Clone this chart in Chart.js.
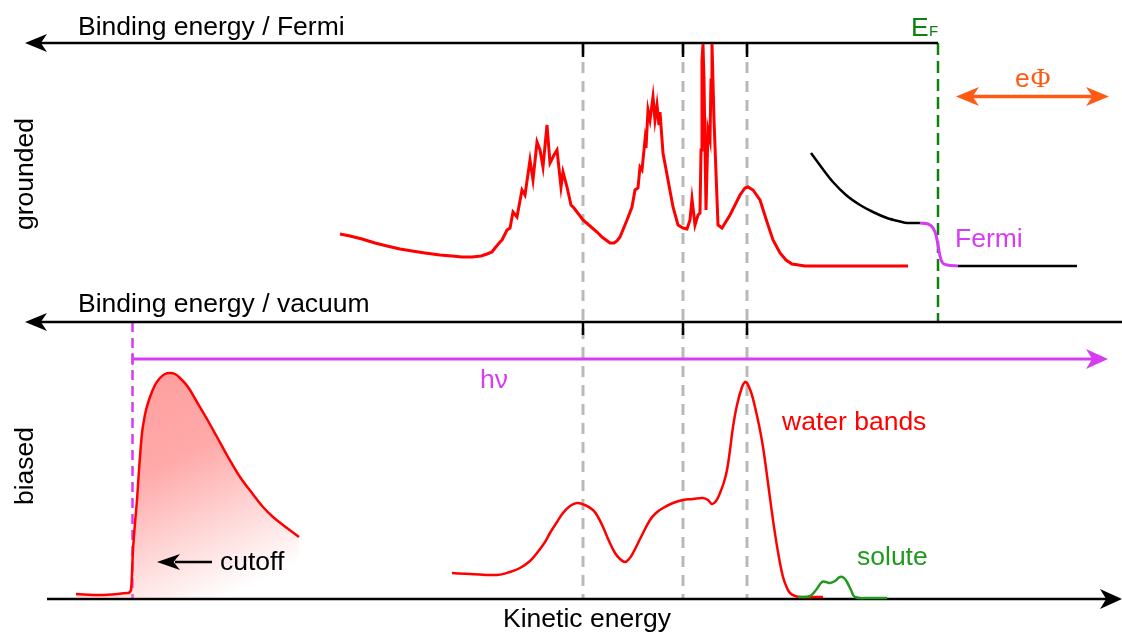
<!DOCTYPE html>
<html><head><meta charset="utf-8">
<script src="https://cdn.jsdelivr.net/npm/chart.js@4.4.1/dist/chart.umd.min.js"></script>
<style>html,body{margin:0;padding:0;background:#fff;overflow:hidden}canvas{display:block}</style>
</head><body>
<canvas id="c" width="1122" height="633"></canvas>
<script>
// ---- DATA (kinetic energy axis in arbitrary units, intensities in arbitrary units) ----
// grounded panel: liquid-water spectrum
const groundedWaterKE = [340,350,362,375,387,400,412,425,440,452,462,472,481,487,492,495,500,502,507,510,513,517,522,525,530,533,537,540,543,547,550,554,557,561,563,567,571,574,577,583,590,597,602,606,610,614,617,620,627,632,635,638,640,642,645,646,648,650,653,655,657,659,660,663,668,673,678,683,687,690,692,695,698,700,701,702,703,704,706,707,708,710,711,712,714,718,722,730,740,745,748,753,760,767,773,780,786,792,805,908];
const groundedWaterI  = [32,30,27,23,20,17,15,13,11,10,9,9,10,12,14,18,24,26,36,38,54,49,76,71,106,86,124,116,99,141,103,111,116,79,94,79,61,58,54,46,40,34,29,26,23,23,25,29,46,59,76,78,99,96,126,118,156,146,169,146,161,141,154,113,86,59,41,38,37,46,67,41,51,53,116,206,222,186,56,96,136,126,186,222,146,41,38,51,71,78,79,76,66,44,26,13,6,2,0,0];
// grounded panel: metal reference spectrum (valence, Fermi edge, tail)
const metalKE   = [811,822,833,846,860,873,887,900,907,920];
const metalI    = [113,98,84,71,61,54,48,44.5,43,43];
const fermiKE   = [920,928,933,936,938,940,942,947,958];
const fermiI    = [43,42,38,31,21,10,4,1,0];
const metalTailKE = [958,1077];
const metalTailI  = [0,0];
// biased panel: secondary-electron cutoff
const cutoffKE = [76,100,128,131,133,135,137,139,142,144,146,150,155,160,165,170,175,180,188,197,207,217,228,240,252,263,273,283,291,299];
const cutoffI  = [4,3,5,8,48,75,98,128,165,178,188,201,213,220,224,225,224,220,211,196,179,161,141,121,105,91,81,73,67,61];
// biased panel: water bands
const waterBandsKE = [452,470,497,510,520,530,537,545,550,557,563,570,577,585,593,598,603,609,615,620,625,629,633,641,650,656,663,673,683,693,703,708,712,716,720,724,727,730,733,737,742,745,747,751,755,759,763,768,773,778,783,787,790,795,800,823];
const waterBandsI  = [25,24,23,26,30,37,45,56,65,76,85,92,95,93,88,81,71,57,45,39,36,39,45,61,78,85,90,95,98,99,100,98,94,97,105,116,128,148,171,193,211,216,215,206,191,173,151,115,78,46,21,10,5,2,1,1];
// biased panel: solute
const soluteKE = [798,810,816,822,826,830,835,840,844,847,851,855,870,887];
const soluteI  = [1,2,8,16,16,15,17,21,20,16,8,1,0,0];
// feature positions
const bandKE  = [583,683,747];
const fermiLevelKE = 938;
const cutoffEdgeKE = 132.5;
const labels = {
  topAxis: 'Binding energy / Fermi', vacAxis: 'Binding energy / vacuum', keAxis: 'Kinetic energy',
  grounded: 'grounded', biased: 'biased', hv: 'h\u03bd', water: 'water bands', solute: 'solute',
  cutoff: 'cutoff', fermi: 'Fermi', work: 'e', phi: '\u03a6', ef: 'E', efSub: 'F'
};

const zip = (xs, ys) => xs.map((x, i) => ({x, y: ys[i]}));
const RED = '#ff0000', MAG = '#d63cf2', GREEN_EF = '#0c820c', GREEN = '#1f9a1f', ORANGE = '#ff5a14';
const FONT = '"Liberation Sans", Arial, sans-serif';
const FS = '26.5px ';

function cutoffGradient(context) {
  const chart = context.chart;
  const s = chart.scales;
  const fallback = 'rgba(255,170,170,0.7)';
  if (!s || !s.x || !s.yBot || !chart.chartArea) return fallback;
  const x0 = s.x.getPixelForValue(160), y0 = s.yBot.getPixelForValue(215);
  const x1 = s.x.getPixelForValue(255), y1 = s.yBot.getPixelForValue(15);
  if (![x0, y0, x1, y1].every(Number.isFinite)) return fallback;
  const g = chart.ctx.createLinearGradient(x0, y0, x1, y1);
  g.addColorStop(0, 'rgba(255,160,160,1)');
  g.addColorStop(0.35, 'rgba(255,170,170,1)');
  g.addColorStop(1, 'rgba(255,170,170,0)');
  return g;
}

const overlay = {
  id: 'overlay',
  beforeDatasetsDraw(chart) {
    const c = chart.ctx, s = chart.scales;
    const X = v => s.x.getPixelForValue(v), YT = v => s.yTop.getPixelForValue(v), YB = v => s.yBot.getPixelForValue(v);
    c.save();
    c.strokeStyle = '#b9b9b9'; c.lineWidth = 3; c.setLineDash([11, 8]);
    bandKE.forEach(k => { c.beginPath(); c.moveTo(X(k), YT(223)); c.lineTo(X(k), YB(0)); c.stroke(); });
    c.strokeStyle = GREEN_EF; c.lineWidth = 2.5; c.setLineDash([12, 6]);
    c.beginPath(); c.moveTo(X(fermiLevelKE), YT(223)); c.lineTo(X(fermiLevelKE), YT(-56)); c.stroke();
    c.strokeStyle = MAG; c.lineWidth = 2.5; c.setLineDash([10, 6]);
    c.beginPath(); c.moveTo(X(cutoffEdgeKE), YT(-56)); c.lineTo(X(cutoffEdgeKE), YB(0)); c.stroke();
    c.setLineDash([]);
    c.strokeStyle = '#000'; c.lineWidth = 2.5;
    c.beginPath(); c.moveTo(X(40), YT(223)); c.lineTo(X(fermiLevelKE), YT(223)); c.stroke();
    c.beginPath(); c.moveTo(X(40), YT(-56)); c.lineTo(X(1122), YT(-56)); c.stroke();
    c.beginPath(); c.moveTo(X(47), YB(-1)); c.lineTo(X(1108), YB(-1)); c.stroke();
    bandKE.forEach(k => {
      c.beginPath(); c.moveTo(X(k), YT(223)); c.lineTo(X(k), YT(209)); c.stroke();
      c.beginPath(); c.moveTo(X(k), YT(-56)); c.lineTo(X(k), YT(-69)); c.stroke();
    });
    c.strokeStyle = MAG; c.lineWidth = 3;
    c.beginPath(); c.moveTo(X(cutoffEdgeKE), YB(239)); c.lineTo(X(1092), YB(239)); c.stroke();
    c.lineWidth = 2;
    c.beginPath(); c.moveTo(X(cutoffEdgeKE), YB(245)); c.lineTo(X(cutoffEdgeKE), YB(233)); c.stroke();
    c.restore();
  },
  afterDatasetsDraw(chart) {
    const c = chart.ctx, s = chart.scales;
    const X = v => s.x.getPixelForValue(v), YT = v => s.yTop.getPixelForValue(v), YB = v => s.yBot.getPixelForValue(v);
    const head = (tx, ty, dir, len, half, color) => {
      c.beginPath(); c.moveTo(tx, ty);
      c.lineTo(tx - dir * len, ty - half);
      c.lineTo(tx - dir * len * 0.72, ty);
      c.lineTo(tx - dir * len, ty + half);
      c.closePath(); c.fillStyle = color; c.fill();
    };
    c.save();
    head(X(25), YT(223), -1, 22, 9, '#000');
    head(X(25), YT(-56), -1, 22, 9, '#000');
    head(X(1122), YB(-1), 1, 22, 10, '#000');
    head(X(1108), YB(239), 1, 22, 10, MAG);
    c.strokeStyle = ORANGE; c.lineWidth = 3.5;
    c.beginPath(); c.moveTo(X(970), YT(169.5)); c.lineTo(X(1095), YT(169.5)); c.stroke();
    head(X(956), YT(169.5), -1, 23, 9.5, ORANGE);
    head(X(1109), YT(169.5), 1, 23, 9.5, ORANGE);
    c.strokeStyle = '#000'; c.lineWidth = 2.5;
    c.beginPath(); c.moveTo(X(175), YB(36)); c.lineTo(X(212), YB(36)); c.stroke();
    head(X(157), YB(36), -1, 23, 8, '#000');
    c.textBaseline = 'alphabetic';
    c.font = FS + FONT; c.fillStyle = '#000'; c.textAlign = 'left';
    c.fillText(labels.topAxis, 78, 35);
    c.fillText(labels.vacAxis, 78, 312);
    c.fillText(labels.cutoff, 220, 570);
    c.textAlign = 'center';
    c.fillText(labels.keAxis, 587, 627);
    c.save(); c.translate(33, 174); c.rotate(-Math.PI / 2); c.fillText(labels.grounded, 0, 0); c.restore();
    c.save(); c.translate(33, 466); c.rotate(-Math.PI / 2); c.fillText(labels.biased, 0, 0); c.restore();
    c.textAlign = 'left';
    c.fillStyle = MAG; c.fillText(labels.hv, 480, 388);
    c.fillText(labels.fermi, 955, 247);
    c.fillStyle = RED; c.fillText(labels.water, 782, 430);
    c.fillStyle = GREEN; c.fillText(labels.solute, 857, 565);
    c.fillStyle = ORANGE; c.fillText(labels.work, 1015, 87);
    const ew = c.measureText(labels.work).width;
    c.font = '27px "Liberation Serif", "Times New Roman", serif';
    c.fillText(labels.phi, 1015 + ew + 1, 87);
    c.fillStyle = GREEN_EF; c.font = FS + FONT;
    c.fillText(labels.ef, 911, 36);
    c.font = '15px ' + FONT;
    c.fillText(labels.efSub, 929, 36);
    c.restore();
  }
};

const line = (data, color, axis, width, extra) => Object.assign({
  data, yAxisID: axis, borderColor: color, borderWidth: width, showLine: true,
  pointRadius: 0, fill: false, tension: 0
}, extra || {});

new Chart(document.getElementById('c'), {
  type: 'scatter',
  data: {
    datasets: [
      line(zip(soluteKE, soluteI), GREEN, 'yBot', 2.5, {tension: 0.4}),
      line(zip(waterBandsKE, waterBandsI), RED, 'yBot', 2.5, {tension: 0.4}),
      line(zip(cutoffKE, cutoffI), RED, 'yBot', 2.5, {cubicInterpolationMode: 'monotone', fill: 'origin', backgroundColor: cutoffGradient}),
      line(zip(groundedWaterKE, groundedWaterI), RED, 'yTop', 3),
      line(zip(fermiKE, fermiI), MAG, 'yTop', 3, {cubicInterpolationMode: 'monotone'}),
      line(zip(metalKE, metalI), '#000', 'yTop', 2.5, {cubicInterpolationMode: 'monotone'}),
      line(zip(metalTailKE, metalTailI), '#000', 'yTop', 2.5)
    ]
  },
  options: {
    responsive: false, animation: false, devicePixelRatio: 1,
    layout: {padding: 0},
    plugins: {legend: {display: false}, tooltip: {enabled: false}},
    scales: {
      x: {type: 'linear', min: 0, max: 1122, display: false},
      yTop: {type: 'linear', min: -367, max: 266, display: false},
      yBot: {type: 'linear', min: -35, max: 598, display: false}
    }
  },
  plugins: [overlay]
});
</script>
</body></html>
